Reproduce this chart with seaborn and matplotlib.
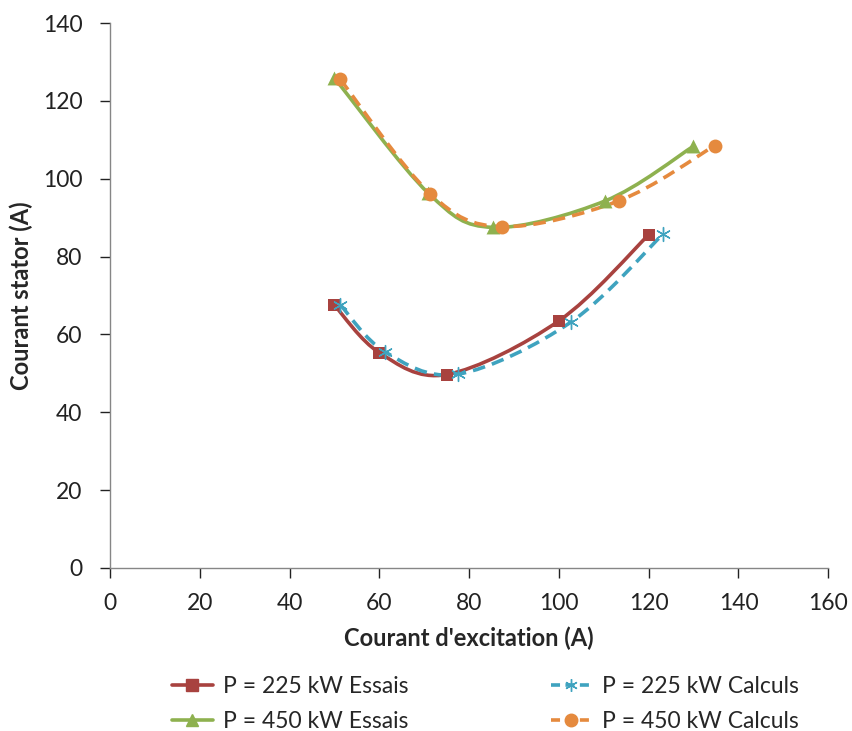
import numpy as np
import pandas as pd
import seaborn as sns
import matplotlib.pyplot as plt
from matplotlib.path import Path
from matplotlib.patches import PathPatch
from matplotlib.lines import Line2D

# values
x_225_essais = [50, 60, 75, 100, 120]
y_225_essais = [67.5, 55.3, 49.7, 63.5, 85.6]
x_225_calculs = [51.3, 61.3, 77.5, 102.7, 123.2]
y_225_calculs = [67.6, 55.5, 49.8, 63.2, 85.8]
x_450_essais = [50, 70.9, 85.3, 110.3, 129.9]
y_450_essais = [125.9, 96.3, 87.5, 94.3, 108.3]
x_450_calculs = [51.3, 71.3, 87.3, 113.3, 134.7]
y_450_calculs = [125.5, 96.2, 87.7, 94.3, 108.5]

labels = ["P = 225 kW Essais", "P = 225 kW Calculs",
          "P = 450 kW Essais", "P = 450 kW Calculs"]

frames = []
for lab, xs, ys in zip(labels,
                       [x_225_essais, x_225_calculs, x_450_essais, x_450_calculs],
                       [y_225_essais, y_225_calculs, y_450_essais, y_450_calculs]):
    frames.append(pd.DataFrame({"x": xs, "y": ys, "serie": lab}))
df = pd.concat(frames, ignore_index=True)

colors = {labels[0]: "#A8423F", labels[1]: "#3FA3BF",
          labels[2]: "#8EB14F", labels[3]: "#E58A3E"}
markers = {labels[0]: "s", labels[1]: (6, 2, 0), labels[2]: "^", labels[3]: "o"}
dashed = {labels[0]: False, labels[1]: True, labels[2]: False, labels[3]: True}
msize = {labels[0]: 9, labels[1]: 10, labels[2]: 10, labels[3]: 10}

sns.set_style("white")
plt.rcParams["font.family"] = ["Lato", "DejaVu Sans"]

fig = plt.figure(figsize=(8.53, 7.31), dpi=100)
ax = fig.add_axes([0.129, 0.223, 0.842, 0.7455])


def smooth_path(xs, ys):
    # Excel-style smoothed line (cubic Bezier through the points)
    p = np.column_stack([xs, ys])
    n = len(p)
    verts = [p[0]]
    codes = [Path.MOVETO]
    for i in range(n - 1):
        p0 = p[i - 1] if i > 0 else p[i]
        p3 = p[i + 2] if i + 2 < n else p[i + 1]
        c1 = p[i] + (p[i + 1] - p0) / 6
        c2 = p[i + 1] - (p3 - p[i]) / 6
        verts += [c1, c2, p[i + 1]]
        codes += [Path.CURVE4] * 3
    return Path(verts, codes)


for lab in labels:
    sub = df[df.serie == lab]
    patch = PathPatch(smooth_path(sub.x.values, sub.y.values), fill=False,
                      edgecolor=colors[lab], lw=2.6,
                      linestyle=(0, (3.5, 2)) if dashed[lab] else "-",
                      capstyle="butt", zorder=2)
    ax.add_patch(patch)
    sns.scatterplot(data=sub, x="x", y="y", ax=ax, color=colors[lab],
                    marker=markers[lab], s=msize[lab] ** 2,
                    edgecolor=colors[lab] if lab != labels[1] else None,
                    linewidth=1 if lab == labels[1] else 0, zorder=3,
                    legend=False)

ax.set_xlim(0, 160)
ax.set_ylim(0, 140)
ax.set_xticks(range(0, 161, 20))
ax.set_yticks(range(0, 141, 20))
ax.tick_params(labelsize=16.5, colors="#222222", length=7, width=1,
               direction="out", bottom=True, left=True)
ax.tick_params(axis="x", pad=11)
ax.tick_params(axis="y", pad=13)
for t in ax.get_xticklines() + ax.get_yticklines():
    t.set_color("#868686")
sns.despine(ax=ax)
for s in ["left", "bottom"]:
    ax.spines[s].set_color("#868686")
    ax.spines[s].set_linewidth(1)

ax.set_xlabel("Courant d'excitation (A)", fontsize=17, fontweight="bold", labelpad=9)
ax.set_ylabel("Courant stator (A)", fontsize=17, fontweight="bold", labelpad=7)

handles = []
for lab in labels:
    handles.append(Line2D([0], [0], color=colors[lab], lw=2.6,
                          linestyle=(0, (2.5, 1.5)) if dashed[lab] else "-",
                          marker=markers[lab], markersize=9,
                          markerfacecolor=colors[lab], markeredgecolor=colors[lab]))
order = [0, 2, 1, 3]
fig.legend([handles[i] for i in order], [labels[i] for i in order],
           loc="upper left", bbox_to_anchor=(0.177, 0.104), ncol=2,
           frameon=False, fontsize=16.5, handlelength=1.8, handletextpad=0.45,
           columnspacing=6.2, labelspacing=0.62, borderpad=0.4)

fig.savefig("out.png", dpi=100)
